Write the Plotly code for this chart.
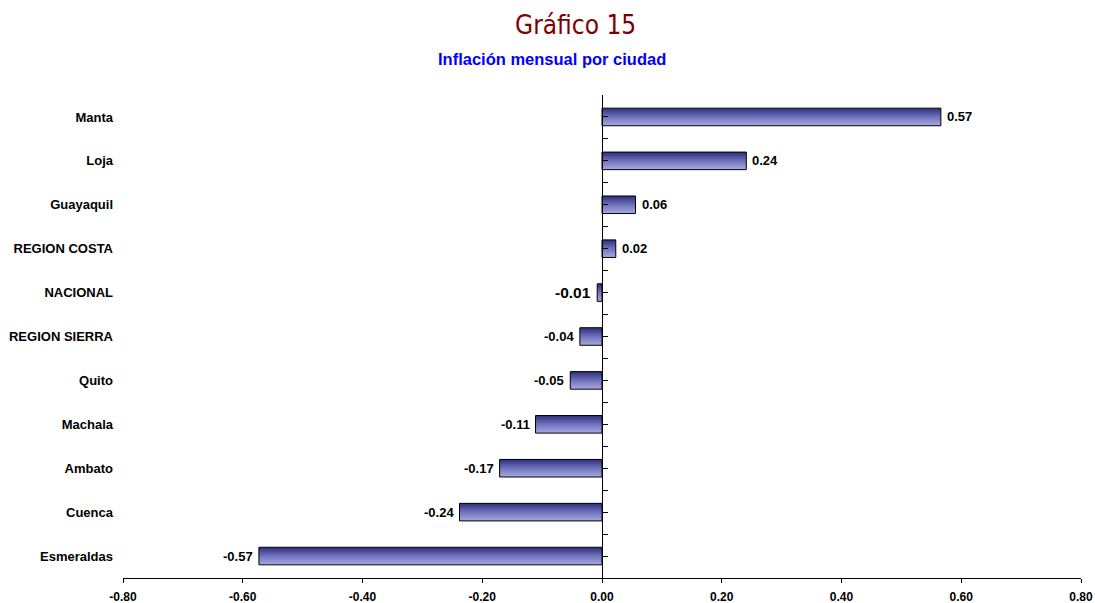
import plotly.graph_objects as go

cities = ["Manta", "Loja", "Guayaquil", "REGION COSTA", "NACIONAL", "REGION SIERRA",
          "Quito", "Machala", "Ambato", "Cuenca", "Esmeraldas"]
inflation = [0.566, 0.241, 0.056, 0.023, -0.008, -0.037, -0.053, -0.111, -0.171, -0.238, -0.573]
label_sizes = [13, 13, 13, 13, 15.5, 13, 13, 13, 13, 13, 13]
x_ticks = [-0.8, -0.6, -0.4, -0.2, 0.0, 0.2, 0.4, 0.6, 0.8]
x_tick_text = ["-0.80", "-0.60", "-0.40", "-0.20", "0.00", "0.20", "0.40", "0.60", "0.80"]

n = len(cities)
ypos = [n - 1 - i for i in range(n)]
half = 0.2

W, H = 1095, 603
L, R, T, B = 123, 14, 95, 25
plot_w = W - L - R
plot_h = H - T - B


def px_to_paper(px, py):
    return (px - L) / plot_w, (H - B - py) / plot_h


fig = go.Figure()

# bars drawn as filled shapes so they can carry the vertical gradient
for y, v in zip(ypos, inflation):
    fig.add_trace(go.Scatter(
        x=[0, v, v, 0, 0],
        y=[y - half, y - half, y + half, y + half, y - half],
        mode="lines",
        fill="toself",
        fillgradient=dict(type="vertical",
                          colorscale=[[0, "#a9aae0"], [0.5, "#6f72bc"], [1, "#2c2e7c"]]),
        line=dict(color="black", width=1),
        hoverinfo="skip",
        showlegend=False,
    ))

# invisible trace so the zero-line category axis gets drawn
fig.add_trace(go.Scatter(x=[0], y=[0], yaxis="y2", mode="markers",
                         marker=dict(opacity=0), hoverinfo="skip", showlegend=False))

annotations = []
for y, v, s in zip(ypos, inflation, label_sizes):
    annotations.append(dict(
        x=v, y=y, xref="x", yref="y",
        text=f"<b>{v:.2f}</b>",
        showarrow=False,
        xanchor="left" if v >= 0 else "right",
        xshift=4 if v >= 0 else -4,
        yanchor="middle",
        font=dict(family="Liberation Sans, Arial", size=s, color="black"),
    ))

tx, ty = px_to_paper(575, 25)
annotations.append(dict(
    text="Gráfico 15", x=tx, y=ty, xref="paper", yref="paper",
    xanchor="center", yanchor="middle", showarrow=False,
    font=dict(family="Liberation Sans Narrow, Arial Narrow, DejaVu Sans Condensed, sans-serif",
              size=26, color="#800000"),
))
sx, sy = px_to_paper(552, 59)
annotations.append(dict(
    text="<b>Inflación mensual por ciudad</b>", x=sx, y=sy, xref="paper", yref="paper",
    xanchor="center", yanchor="middle", showarrow=False,
    font=dict(family="Liberation Sans, Arial", size=16.5, color="#0000ff"),
))

fig.update_layout(
    width=W,
    height=H,
    margin=dict(l=L, r=R, t=T, b=B),
    paper_bgcolor="white",
    plot_bgcolor="white",
    font=dict(family="Liberation Sans, Arial", color="black"),
    xaxis=dict(
        range=[-0.8, 0.8],
        tickvals=x_ticks,
        ticktext=x_tick_text,
        showgrid=False,
        zeroline=False,
        showline=True,
        linecolor="black",
        linewidth=1,
        ticks="outside",
        ticklen=4,
        tickcolor="black",
        ticklabelstandoff=4,
        tickfont=dict(size=12, weight="bold"),
        automargin=False,
    ),
    yaxis=dict(
        range=[-0.5, n - 0.5],
        tickvals=ypos,
        ticktext=cities,
        showgrid=False,
        zeroline=False,
        showline=False,
        ticks="",
        ticklabelstandoff=9,
        tickfont=dict(size=13, weight="bold"),
        automargin=False,
    ),
    yaxis2=dict(
        range=[-0.5, n - 0.5],
        overlaying="y",
        anchor="free",
        position=0.5,
        side="left",
        showline=True,
        linecolor="black",
        linewidth=1,
        ticks="inside",
        ticklen=5,
        tickcolor="black",
        tickmode="linear",
        tick0=-0.5,
        dtick=0.5,
        showticklabels=False,
        showgrid=False,
        zeroline=False,
        automargin=False,
    ),
    annotations=annotations,
)

# drop the default page margin so the figure fills the window exactly
fig.write_html("out.html",
               config={"displayModeBar": False},
               post_script="document.body.style.margin='0';document.body.style.overflow='hidden';")
